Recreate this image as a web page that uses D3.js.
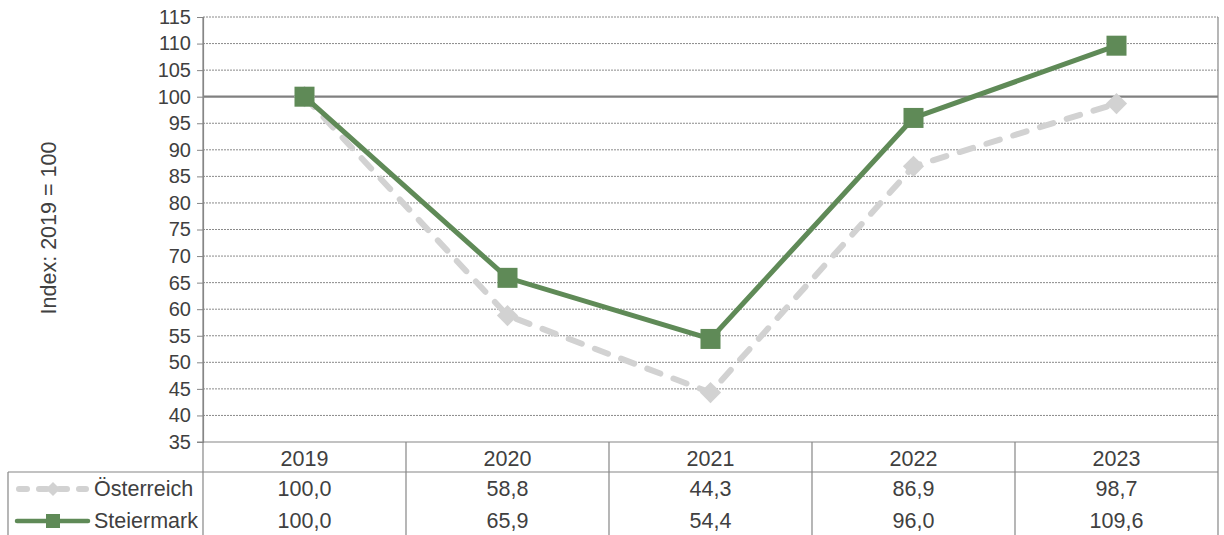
<!DOCTYPE html>
<html><head><meta charset="utf-8">
<script src="https://cdn.jsdelivr.net/npm/d3@7"></script>
<style>body{margin:0;background:#fff;}svg{display:block;font-family:"Liberation Sans",Arial,sans-serif;}</style>
</head><body>
<svg id="c" width="1224" height="535"></svg>
<script>
const years = ["2019","2020","2021","2022","2023"];
const oesterreich = [100.0, 58.8, 44.3, 86.9, 98.7];
const steiermark = [100.0, 65.9, 54.4, 96.0, 109.6];
const seriesNames = ["Österreich","Steiermark"];
const yTicks = [35,40,45,50,55,60,65,70,75,80,85,90,95,100,105,110,115];
const fmt = v => d3.format(".1f")(v).replace(".", ",");

const svg = d3.select("#c");
const L = 203, R = 1218, T = 17, B = 442;
const green = "#5f8a57", grey = "#d2d2d2", axisCol = "#868686", txt = "#404040";
const fsTick = "20px", fsTab = "21.5px";

const x = d3.scaleBand().domain(years).range([L, R]);
const y = d3.scaleLinear().domain([35, 115]).range([B, T]);

// gridlines
svg.append("g").selectAll("line").data(yTicks.filter(t => t !== 35 && t !== 100)).join("line")
  .attr("x1", L).attr("x2", R).attr("y1", d => y(d)).attr("y2", d => y(d))
  .attr("stroke", "#8a8a8a").attr("stroke-width", 1).attr("stroke-dasharray", "2,1");
// 100 line
svg.append("line").attr("x1", L).attr("x2", R).attr("y1", y(100)).attr("y2", y(100))
  .attr("stroke", "#808080").attr("stroke-width", 2.2);

// y axis
const yAxis = d3.axisLeft(y).tickValues(yTicks).tickSize(6).tickPadding(6).tickFormat(d3.format("d"));
const gy = svg.append("g").attr("transform", `translate(${L},0)`).call(yAxis);
gy.select(".domain").attr("stroke", axisCol).attr("stroke-width", 1.2);
gy.selectAll(".tick line").attr("stroke", axisCol);
gy.selectAll(".tick text").attr("fill", txt).style("font-size", fsTick).style("font-family", "Liberation Sans, Arial, sans-serif");

// y label
svg.append("text").attr("transform", `translate(56,228) rotate(-90)`).attr("text-anchor", "middle")
  .attr("fill", txt).style("font-size", fsTab).text("Index: 2019 = 100");

// table
const rowH = 32;
const tb = svg.append("g").attr("stroke", axisCol).attr("stroke-width", 1.2);
tb.append("line").attr("x1", L - 6).attr("x2", R).attr("y1", B).attr("y2", B);
tb.append("line").attr("x1", 8).attr("x2", R).attr("y1", B + 30).attr("y2", B + 30);
tb.append("line").attr("x1", 8).attr("x2", 8).attr("y1", B + 30).attr("y2", 535);
tb.append("line").attr("x1", R).attr("x2", R).attr("y1", T).attr("y2", 535);
years.forEach((yr, i) => {
  const xx = x(yr);
  tb.append("line").attr("x1", xx).attr("x2", xx).attr("y1", i === 0 ? T : B).attr("y2", 535);
});
// header
svg.append("g").selectAll("text").data(years).join("text")
  .attr("x", d => x(d) + x.bandwidth() / 2).attr("y", B + 24).attr("text-anchor", "middle")
  .attr("fill", txt).style("font-size", fsTab).text(d => d);
const rows = [oesterreich, steiermark];
rows.forEach((arr, r) => {
  svg.append("g").selectAll("text").data(arr).join("text")
    .attr("x", (d, i) => x(years[i]) + x.bandwidth() / 2).attr("y", B + 30 + 24 + r * rowH)
    .attr("text-anchor", "middle").attr("fill", txt).style("font-size", fsTab).text(d => fmt(d));
  svg.append("text").attr("x", 94).attr("y", B + 30 + 24 + r * rowH).attr("fill", txt)
    .style("font-size", fsTab).text(seriesNames[r]);
});

// lines
const line = d3.line().x((d, i) => x(years[i]) + x.bandwidth() / 2).y(d => y(d));
svg.append("path").datum(oesterreich).attr("d", line).attr("fill", "none").attr("stroke", grey)
  .attr("stroke-width", 6).attr("stroke-linecap", "round").attr("stroke-dasharray", "14,14");
svg.append("g").selectAll("rect").data(oesterreich).join("rect")
  .attr("x", -7.5).attr("y", -7.5).attr("width", 15).attr("height", 15).attr("fill", grey)
  .attr("transform", (d, i) => `translate(${x(years[i]) + x.bandwidth() / 2},${y(d)}) rotate(45)`);
svg.append("path").datum(steiermark).attr("d", line).attr("fill", "none").attr("stroke", green)
  .attr("stroke-width", 5);
svg.append("g").selectAll("rect").data(steiermark).join("rect")
  .attr("x", -10).attr("y", -10).attr("width", 20).attr("height", 20).attr("fill", green)
  .attr("transform", (d, i) => `translate(${x(years[i]) + x.bandwidth() / 2},${y(d)})`);

// legend
const ly1 = B + 30 + 17, ly2 = ly1 + rowH;
svg.append("line").attr("x1", 19).attr("x2", 86).attr("y1", ly1).attr("y2", ly1).attr("stroke", grey)
  .attr("stroke-width", 6).attr("stroke-linecap", "round").attr("stroke-dasharray", "8,12");
svg.append("rect").attr("x", -5).attr("y", -5).attr("width", 10).attr("height", 10).attr("fill", grey)
  .attr("transform", `translate(53,${ly1}) rotate(45)`);
svg.append("line").attr("x1", 17).attr("x2", 88).attr("y1", ly2).attr("y2", ly2).attr("stroke", green)
  .attr("stroke-width", 4.5).attr("stroke-linecap", "round");
svg.append("rect").attr("x", 46).attr("y", ly2 - 7).attr("width", 14).attr("height", 14).attr("fill", green);
</script>
</body></html>
